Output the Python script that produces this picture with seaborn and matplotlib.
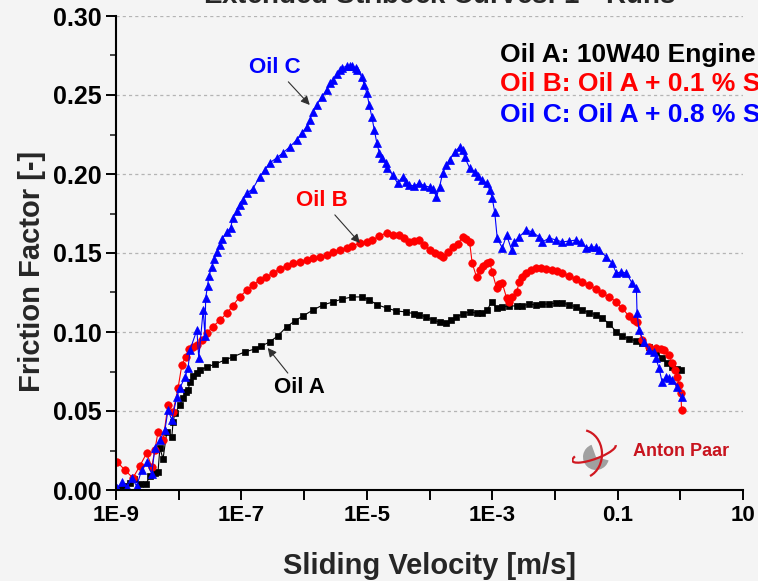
import numpy as np
import pandas as pd
import seaborn as sns
import matplotlib.pyplot as plt
from matplotlib.ticker import FixedLocator, FixedFormatter, MultipleLocator, FormatStrFormatter, NullLocator
from matplotlib.patches import Wedge, Arc

# log10 of sliding velocity [m/s] and friction factor [-]
oil_a_logv = [-8.97, -8.87, -8.78, -8.71, -8.62, -8.52, -8.46, -8.38, -8.33, -8.30, -8.25, -8.19,
              -8.11, -8.09, -8.06, -7.98, -7.93, -7.89, -7.85, -7.82, -7.77, -7.71, -7.66, -7.55,
              -7.42, -7.26, -7.14, -6.95, -6.79, -6.68, -6.55, -6.42, -6.28, -6.15, -6.02, -5.86,
              -5.70, -5.54, -5.39, -5.23, -5.07, -4.96, -4.83, -4.68, -4.53, -4.37, -4.24, -4.16,
              -4.05, -3.95, -3.84, -3.73, -3.65, -3.57, -3.47, -3.36, -3.25, -3.16, -3.08, -3.01,
              -2.93, -2.84, -2.73, -2.61, -2.52, -2.41, -2.30, -2.20, -2.09, -1.98, -1.88, -1.77,
              -1.66, -1.56, -1.45, -1.34, -1.25, -1.13, -1.02, -0.93, -0.82, -0.70, -0.61, -0.50,
              -0.39, -0.29, -0.21, -0.13, -0.05, 0.01]
oil_a_ff = [0.0006, 0.0025, 0.0044, 0.0070, 0.0038, 0.0038, 0.0089, 0.0108, 0.0114, 0.0266, 0.0196, 0.0367,
            0.0335, 0.0430, 0.0487, 0.0538, 0.0582, 0.0620, 0.0633, 0.0684, 0.0722, 0.0741, 0.0759, 0.0778,
            0.0797, 0.0823, 0.0842, 0.0873, 0.0892, 0.0911, 0.0937, 0.0975, 0.1032, 0.1070, 0.1101, 0.1139,
            0.1171, 0.1190, 0.1209, 0.1222, 0.1222, 0.1203, 0.1171, 0.1152, 0.1133, 0.1127, 0.1114, 0.1108,
            0.1095, 0.1076, 0.1063, 0.1057, 0.1076, 0.1095, 0.1114, 0.1127, 0.1120, 0.1120, 0.1139, 0.1190,
            0.1152, 0.1158, 0.1165, 0.1165, 0.1165, 0.1177, 0.1171, 0.1177, 0.1177, 0.1184, 0.1184, 0.1171,
            0.1158, 0.1139, 0.1120, 0.1108, 0.1089, 0.1051, 0.1000, 0.0975, 0.0956, 0.0943, 0.0930, 0.0905,
            0.0873, 0.0835, 0.0804, 0.0778, 0.0766, 0.0759]

oil_b_logv = [-8.98, -8.86, -8.73, -8.62, -8.51, -8.43, -8.38, -8.33, -8.25, -8.17, -8.09, -8.01,
              -7.95, -7.89, -7.84, -7.77, -7.71, -7.63, -7.55, -7.46, -7.34, -7.23, -7.14, -7.03,
              -6.91, -6.82, -6.71, -6.60, -6.50, -6.39, -6.28, -6.18, -6.07, -5.96, -5.86, -5.75,
              -5.64, -5.54, -5.43, -5.32, -5.23, -5.11, -5.00, -4.91, -4.80, -4.68, -4.59, -4.48,
              -4.40, -4.32, -4.24, -4.16, -4.08, -4.00, -3.92, -3.84, -3.79, -3.71, -3.63, -3.55,
              -3.47, -3.41, -3.36, -3.32, -3.25, -3.20, -3.14, -3.09, -3.04, -3.00, -2.93, -2.89,
              -2.84, -2.77, -2.73, -2.68, -2.61, -2.57, -2.52, -2.46, -2.38, -2.30, -2.22, -2.14,
              -2.04, -1.96, -1.88, -1.77, -1.66, -1.56, -1.45, -1.34, -1.25, -1.13, -1.02, -0.93,
              -0.82, -0.74, -0.69, -0.61, -0.50, -0.39, -0.31, -0.26, -0.18, -0.13, -0.08, -0.05,
              -0.02, 0.01, 0.02]
oil_b_ff = [0.0177, 0.0127, 0.0076, 0.0152, 0.0234, 0.0146, 0.0253, 0.0367, 0.0316, 0.0538, 0.0494, 0.0646,
            0.0791, 0.0842, 0.0892, 0.0905, 0.0918, 0.0949, 0.0994, 0.1032, 0.1076, 0.1120, 0.1165, 0.1222,
            0.1266, 0.1297, 0.1329, 0.1348, 0.1373, 0.1399, 0.1418, 0.1437, 0.1443, 0.1456, 0.1468, 0.1475,
            0.1487, 0.1506, 0.1519, 0.1532, 0.1544, 0.1563, 0.1570, 0.1582, 0.1608, 0.1627, 0.1614, 0.1614,
            0.1595, 0.1570, 0.1576, 0.1582, 0.1551, 0.1519, 0.1500, 0.1487, 0.1475, 0.1506, 0.1538, 0.1557,
            0.1601, 0.1589, 0.1570, 0.1437, 0.1348, 0.1392, 0.1418, 0.1437, 0.1443, 0.1380, 0.1278, 0.1304,
            0.1310, 0.1215, 0.1190, 0.1222, 0.1253, 0.1316, 0.1348, 0.1373, 0.1392, 0.1405, 0.1405, 0.1399,
            0.1392, 0.1386, 0.1373, 0.1354, 0.1335, 0.1316, 0.1297, 0.1272, 0.1247, 0.1222, 0.1190, 0.1152,
            0.1101, 0.1076, 0.1063, 0.0949, 0.0905, 0.0899, 0.0892, 0.0886, 0.0854, 0.0804, 0.0759, 0.0715,
            0.0665, 0.0614, 0.0506]

oil_c_logv = [-8.98, -8.90, -8.82, -8.75, -8.67, -8.59, -8.51, -8.43, -8.38, -8.30, -8.22, -8.17,
              -8.11, -8.03, -7.98, -7.90, -7.85, -7.82, -7.71, -7.68, -7.61, -7.58, -7.57, -7.54,
              -7.52, -7.47, -7.44, -7.39, -7.34, -7.31, -7.23, -7.17, -7.14, -7.07, -7.03, -6.98,
              -6.91, -6.82, -6.71, -6.63, -6.55, -6.44, -6.34, -6.23, -6.12, -6.04, -5.96, -5.91,
              -5.86, -5.80, -5.72, -5.64, -5.59, -5.54, -5.48, -5.43, -5.39, -5.32, -5.27, -5.23,
              -5.18, -5.15, -5.08, -5.04, -5.00, -4.96, -4.92, -4.88, -4.84, -4.80, -4.75, -4.70,
              -4.67, -4.59, -4.51, -4.43, -4.37, -4.32, -4.24, -4.16, -4.08, -4.00, -3.94, -3.89,
              -3.84, -3.79, -3.73, -3.68, -3.60, -3.52, -3.47, -3.44, -3.36, -3.28, -3.22, -3.16,
              -3.09, -3.04, -3.00, -2.96, -2.92, -2.84, -2.77, -2.69, -2.65, -2.57, -2.46, -2.36,
              -2.25, -2.20, -2.09, -1.98, -1.88, -1.77, -1.66, -1.58, -1.50, -1.42, -1.34, -1.29,
              -1.18, -1.09, -1.02, -0.94, -0.86, -0.77, -0.70, -0.69, -0.66, -0.58, -0.50, -0.42,
              -0.39, -0.34, -0.29, -0.23, -0.18, -0.13, -0.05, 0.02]
oil_c_ff = [0.0013, 0.0051, 0.0019, 0.0076, 0.0025, 0.0127, 0.0177, 0.0101, 0.0266, 0.0316, 0.0380, 0.0506,
            0.0443, 0.0589, 0.0646, 0.0715, 0.0772, 0.0886, 0.1013, 0.0835, 0.1139, 0.0975, 0.1215, 0.1291,
            0.1354, 0.1411, 0.1462, 0.1506, 0.1551, 0.1589, 0.1633, 0.1658, 0.1722, 0.1766, 0.1804, 0.1835,
            0.1880, 0.1905, 0.1981, 0.2025, 0.2070, 0.2101, 0.2133, 0.2171, 0.2215, 0.2259, 0.2297, 0.2342,
            0.2392, 0.2437, 0.2487, 0.2532, 0.2576, 0.2595, 0.2633, 0.2658, 0.2671, 0.2684, 0.2684, 0.2684,
            0.2671, 0.2658, 0.2614, 0.2563, 0.2513, 0.2437, 0.2361, 0.2278, 0.2196, 0.2133, 0.2101, 0.2070,
            0.2038, 0.1994, 0.1943, 0.1981, 0.1949, 0.1930, 0.1924, 0.1943, 0.1924, 0.1918, 0.1905, 0.1854,
            0.1918, 0.2006, 0.2057, 0.2089, 0.2139, 0.2171, 0.2152, 0.2108, 0.2038, 0.2013, 0.1987, 0.1962,
            0.1943, 0.1899, 0.1848, 0.1759, 0.1595, 0.1532, 0.1614, 0.1519, 0.1570, 0.1601, 0.1646, 0.1633,
            0.1601, 0.1570, 0.1595, 0.1582, 0.1570, 0.1576, 0.1582, 0.1570, 0.1532, 0.1538, 0.1538, 0.1519,
            0.1475, 0.1437, 0.1373, 0.1380, 0.1373, 0.1310, 0.1278, 0.1120, 0.1013, 0.0937, 0.0886, 0.0873,
            0.0835, 0.0772, 0.0684, 0.0715, 0.0709, 0.0696, 0.0652, 0.0589]

x_tick_exponents = list(range(-9, 2))
x_tick_labels = ["1E-9", "", "1E-7", "", "1E-5", "", "1E-3", "", "0.1", "", "10"]
y_ticks = [0.00, 0.05, 0.10, 0.15, 0.20, 0.25, 0.30]

legend_texts = ["Oil A: 10W40 Engine Oil",
                "Oil B: Oil A + 0.1 % SiO2",
                "Oil C: Oil A + 0.8 % SiO2"]

bg = "#f4f4f4"
sns.set_style("ticks", rc={"axes.facecolor": bg, "figure.facecolor": bg})
plt.rcParams["font.family"] = ["Liberation Sans", "DejaVu Sans"]
plt.rcParams["font.weight"] = "bold"
plt.rcParams["mathtext.fontset"] = "custom"
plt.rcParams["mathtext.bf"] = "Liberation Sans:bold"

fig = plt.figure(figsize=(7.58, 5.81), dpi=100)
ax = fig.add_axes([116 / 758, 91 / 581, 627 / 758, 474 / 581])
ax.set_xscale("log")

series = [
    (oil_a_logv, oil_a_ff, "#000000", "s", 4.8),
    (oil_b_logv, oil_b_ff, "#ff0000", "o", 5.4),
    (oil_c_logv, oil_c_ff, "#0000ff", "^", 6.0),
]
for logv, ff, color, marker, ms in series:
    df = pd.DataFrame({"v": 10.0 ** np.array(logv), "ff": ff})
    sns.lineplot(data=df, x="v", y="ff", ax=ax, estimator=None, sort=False,
                 color=color, marker=marker, markersize=ms, markeredgecolor=color,
                 markeredgewidth=0.5, linewidth=0.8)

ax.set_xlim(1e-9, 10)
ax.set_ylim(0, 0.30)

# axes and ticks
ax.xaxis.set_major_locator(FixedLocator([10.0 ** e for e in x_tick_exponents]))
ax.xaxis.set_major_formatter(FixedFormatter(x_tick_labels))
ax.xaxis.set_minor_locator(NullLocator())
ax.yaxis.set_major_locator(FixedLocator(y_ticks))
ax.yaxis.set_major_formatter(FormatStrFormatter("%.2f"))
ax.yaxis.set_minor_locator(MultipleLocator(0.025))
ax.tick_params(axis="both", which="major", direction="out", length=7, width=1.4,
               color="black", labelcolor="black")
ax.tick_params(axis="x", labelsize=16, pad=4)
ax.tick_params(axis="y", labelsize=18, pad=3)
ax.tick_params(axis="y", which="minor", direction="out", length=4, width=1.2)
for lbl in ax.get_xticklabels() + ax.get_yticklabels():
    lbl.set_fontweight("bold")

sns.despine(ax=ax, top=True, right=True)
for side in ["left", "bottom"]:
    ax.spines[side].set_linewidth(1.5)
    ax.spines[side].set_color("black")

ax.yaxis.grid(True, linestyle=(0, (2.5, 2.5)), color="#b4b4b4", linewidth=0.9)
ax.xaxis.grid(False)
ax.set_axisbelow(True)

ax.set_xlabel("Sliding Velocity [m/s]", fontsize=21, fontweight="bold")
ax.set_ylabel("Friction Factor [-]", fontsize=21, fontweight="bold")
ax.xaxis.set_label_coords(0.5, -0.13)
ax.yaxis.set_label_coords(-0.112, 0.462)

fig.text(0.58, 0.993, r"Extended Stribeck Curves: 1$^\mathbf{st}$ Runs", fontsize=20,
         fontweight="bold", ha="center", va="baseline")

# legend as coloured text lines (cut by the figure edge, as in the original)
for txt, color, ypx in zip(legend_texts, ["black", "#ff0000", "#0000ff"], [62, 91, 122]):
    fig.text(500 / 758, 1 - ypx / 581, txt, fontsize=19, fontweight="bold",
             color=color, ha="left", va="baseline")

# curve labels with arrows
arrow = dict(arrowstyle="-|>", color="#303030", lw=0.8, mutation_scale=13,
             shrinkA=1, shrinkB=0)
ax.annotate("Oil C", xy=(10 ** -5.91, 0.2437), xytext=(10 ** -6.47, 0.2677),
            color="#0000ff", fontsize=16, fontweight="bold", ha="center", va="center",
            arrowprops=arrow)
ax.annotate("Oil B", xy=(10 ** -5.11, 0.1563), xytext=(10 ** -5.72, 0.1835),
            color="#ff0000", fontsize=16, fontweight="bold", ha="center", va="center",
            arrowprops=arrow)
ax.annotate("Oil A", xy=(10 ** -6.58, 0.0899), xytext=(10 ** -6.07, 0.0646),
            color="black", fontsize=16, fontweight="bold", ha="center", va="center",
            arrowprops=arrow)

# Anton Paar logo
fig.text(681 / 758, 1 - 451 / 581, "Anton Paar", fontsize=13, fontweight="bold",
         color="#c8141e", ha="center", va="center")
lax = fig.add_axes([572 / 758, 1 - 480 / 581, 46 / 758, 52 / 581])
lax.set_xlim(0, 46)
lax.set_ylim(0, 52)
lax.axis("off")
lax.add_patch(Wedge((24, 23), 13, 110, 345, facecolor="#a0a0a0", edgecolor="none"))
lax.add_patch(Arc((22, 27), 46, 12, angle=20, theta1=170, theta2=360,
                  color="#d01820", lw=1.6))
lax.add_patch(Arc((10, 26), 40, 48, angle=0, theta1=-70, theta2=80,
                  color="#d01820", lw=1.6))

fig.savefig("out.png", dpi=100, facecolor=bg)
